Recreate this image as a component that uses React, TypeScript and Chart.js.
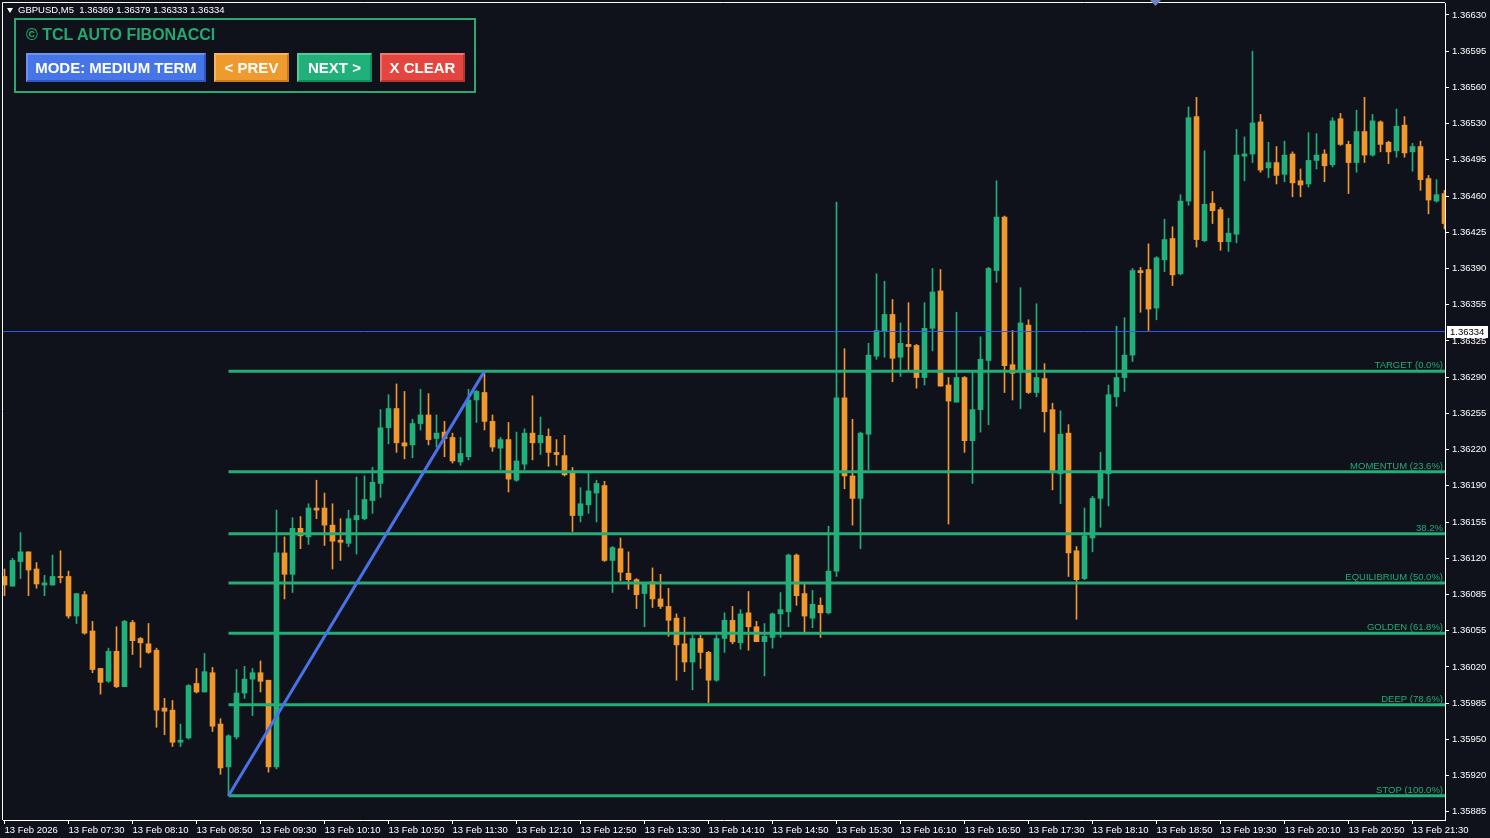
import React, { useEffect, useRef } from "react";
import { Chart, registerables } from "chart.js";

Chart.register(...registerables);

// ---------- DATA ----------
const TIME_LABELS = [
  "13 Feb 2026", "13 Feb 07:30", "13 Feb 08:10", "13 Feb 08:50", "13 Feb 09:30", "13 Feb 10:10",
  "13 Feb 10:50", "13 Feb 11:30", "13 Feb 12:10", "13 Feb 12:50", "13 Feb 13:30", "13 Feb 14:10",
  "13 Feb 14:50", "13 Feb 15:30", "13 Feb 16:10", "13 Feb 16:50", "13 Feb 17:30", "13 Feb 18:10",
  "13 Feb 18:50", "13 Feb 19:30", "13 Feb 20:10", "13 Feb 20:50", "13 Feb 21:30",
];
const BARS_PER_LABEL = 8;

const PRICE_TICKS = [
  "1.36630", "1.36595", "1.36560", "1.36530", "1.36495", "1.36460", "1.36425", "1.36390",
  "1.36355", "1.36325", "1.36290", "1.36255", "1.36220", "1.36190", "1.36155", "1.36120",
  "1.36085", "1.36055", "1.36020", "1.35985", "1.35950", "1.35920", "1.35885",
];
const PRICE_TOP = 1.3663;
const PRICE_BOTTOM = 1.35885;

const OPEN = [
  1.36105, 1.36096, 1.36119, 1.36128, 1.36112, 1.36097, 1.36097, 1.36105, 1.36105, 1.36068,
  1.36088, 1.36054, 1.36019, 1.36007, 1.36035, 1.36002, 1.36062, 1.36047, 1.36042, 1.36036,
  1.35982, 1.3598, 1.3595, 1.35954, 1.36005, 1.35997, 1.36015, 1.35967, 1.35927, 1.35955,
  1.35996, 1.36009, 1.36015, 1.36008, 1.35927, 1.36127, 1.36107, 1.3615, 1.36142, 1.36169,
  1.36169, 1.36153, 1.36139, 1.36136, 1.36158, 1.36159, 1.36176, 1.36192, 1.36244, 1.36262,
  1.3623, 1.36228, 1.36248, 1.36256, 1.36234, 1.3624, 1.36235, 1.36212, 1.36217, 1.3627,
  1.36277, 1.3625, 1.36225, 1.36233, 1.36195, 1.3621, 1.36239, 1.3623, 1.36236, 1.36221,
  1.36218, 1.36202, 1.36162, 1.36172, 1.36183, 1.3619, 1.3612, 1.36131, 1.36108, 1.36102,
  1.36089, 1.361, 1.36084, 1.36077, 1.36066, 1.36042, 1.36025, 1.36047, 1.36034, 1.36008,
  1.36047, 1.36064, 1.36043, 1.36071, 1.36058, 1.36044, 1.36048, 1.3607, 1.36072, 1.36125,
  1.36089, 1.36066, 1.36078, 1.36071, 1.3611, 1.36272, 1.36199, 1.36178, 1.36238, 1.36311,
  1.36334, 1.3635, 1.3631, 1.36322, 1.36321, 1.36291, 1.36337, 1.36372, 1.36284, 1.36268,
  1.36291, 1.36232, 1.36261, 1.36307, 1.36391, 1.36441, 1.36303, 1.36296, 1.3634, 1.36277,
  1.3629, 1.36261, 1.36201, 1.36239, 1.36129, 1.36103, 1.36141, 1.36178, 1.36201, 1.36273,
  1.36291, 1.36312, 1.36391, 1.36392, 1.36356, 1.36401, 1.36421, 1.36388, 1.36456, 1.36535,
  1.36419, 1.36454, 1.36448, 1.36418, 1.36425, 1.36498, 1.365, 1.3653, 1.36487, 1.36492,
  1.36481, 1.365, 1.36475, 1.36472, 1.36494, 1.365, 1.3649, 1.36533, 1.36509, 1.36492,
  1.36521, 1.36499, 1.3653, 1.36511, 1.36503, 1.36527, 1.36502, 1.36507, 1.36477, 1.36456,
  1.36463,
];
const HIGH = [
  1.36112, 1.36122, 1.36146, 1.36128, 1.36118, 1.36106, 1.36125, 1.36129, 1.3611, 1.36089,
  1.36091, 1.36063, 1.36019, 1.36038, 1.36058, 1.36064, 1.36064, 1.36048, 1.36061, 1.36038,
  1.35991, 1.35989, 1.35967, 1.36004, 1.36019, 1.36033, 1.3602, 1.35972, 1.35957, 1.36018,
  1.36021, 1.36019, 1.36026, 1.36008, 1.36167, 1.36142, 1.3616, 1.36161, 1.36173, 1.36195,
  1.36183, 1.36173, 1.36159, 1.36167, 1.36198, 1.36199, 1.36207, 1.36261, 1.36275, 1.36285,
  1.36278, 1.36252, 1.3628, 1.36276, 1.36256, 1.3625, 1.36239, 1.36235, 1.3628, 1.36279,
  1.36297, 1.36256, 1.36235, 1.36249, 1.3624, 1.36243, 1.36274, 1.36254, 1.36243, 1.36233,
  1.36237, 1.36207, 1.36188, 1.36202, 1.36195, 1.36194, 1.36133, 1.36141, 1.36128, 1.36103,
  1.36098, 1.36113, 1.36107, 1.36094, 1.3607, 1.36067, 1.3605, 1.3605, 1.36035, 1.3605,
  1.36071, 1.36077, 1.36074, 1.36091, 1.36063, 1.36061, 1.36071, 1.3609, 1.36126, 1.36126,
  1.36099, 1.36092, 1.36085, 1.36152, 1.36455, 1.36318, 1.36252, 1.3624, 1.36323, 1.36388,
  1.36381, 1.36364, 1.36342, 1.36361, 1.36322, 1.36361, 1.36393, 1.36392, 1.36291, 1.36352,
  1.36292, 1.36296, 1.36329, 1.36394, 1.36475, 1.36442, 1.36335, 1.36375, 1.36345, 1.3636,
  1.36304, 1.36267, 1.3626, 1.36247, 1.36133, 1.36169, 1.3618, 1.36221, 1.36284, 1.36339,
  1.36347, 1.36393, 1.36394, 1.36416, 1.36404, 1.36439, 1.36432, 1.36462, 1.36544, 1.36553,
  1.36503, 1.36465, 1.3645, 1.3644, 1.36523, 1.36516, 1.36596, 1.36537, 1.36511, 1.36507,
  1.36512, 1.36502, 1.36486, 1.3652, 1.36519, 1.36504, 1.36534, 1.36538, 1.36512, 1.36541,
  1.36553, 1.36537, 1.36531, 1.36512, 1.36542, 1.36535, 1.3651, 1.36512, 1.3648, 1.36476,
  1.36466,
];
const LOW = [
  1.36087, 1.36096, 1.36103, 1.36087, 1.36094, 1.36087, 1.36097, 1.36099, 1.36066, 1.36061,
  1.36051, 1.36015, 1.35995, 1.36006, 1.36001, 1.36002, 1.36032, 1.3602, 1.36033, 1.35964,
  1.35957, 1.35946, 1.35946, 1.35953, 1.35996, 1.35997, 1.3596, 1.3592, 1.359, 1.35953,
  1.35991, 1.35975, 1.35997, 1.35922, 1.35925, 1.36084, 1.3609, 1.36131, 1.36135, 1.36159,
  1.36134, 1.36112, 1.3612, 1.36133, 1.36126, 1.36158, 1.36164, 1.36179, 1.36229, 1.36221,
  1.36215, 1.36216, 1.36242, 1.36228, 1.36226, 1.36217, 1.36211, 1.36209, 1.36214, 1.36249,
  1.36242, 1.36222, 1.36205, 1.36184, 1.36194, 1.36205, 1.36214, 1.36219, 1.36208, 1.36209,
  1.36199, 1.36147, 1.36156, 1.36164, 1.36156, 1.36119, 1.3609, 1.36101, 1.36093, 1.36075,
  1.36058, 1.36076, 1.36075, 1.36049, 1.36008, 1.36016, 1.35999, 1.36019, 1.35987, 1.36007,
  1.36034, 1.36042, 1.36037, 1.36036, 1.36044, 1.36012, 1.36038, 1.36048, 1.36058, 1.36078,
  1.36052, 1.36057, 1.36048, 1.3607, 1.36105, 1.36187, 1.36153, 1.36131, 1.36205, 1.36308,
  1.3631, 1.36287, 1.36292, 1.36297, 1.36281, 1.36284, 1.36316, 1.36283, 1.36154, 1.36268,
  1.36221, 1.36192, 1.3624, 1.36247, 1.3638, 1.36277, 1.3627, 1.36262, 1.36276, 1.36273,
  1.3624, 1.36186, 1.36173, 1.36105, 1.36065, 1.36102, 1.36128, 1.36151, 1.36171, 1.36264,
  1.36278, 1.36306, 1.36352, 1.36335, 1.36345, 1.3639, 1.36377, 1.36387, 1.36452, 1.36413,
  1.36418, 1.36435, 1.3641, 1.36409, 1.36417, 1.36475, 1.36492, 1.36483, 1.36478, 1.36472,
  1.36474, 1.3646, 1.3646, 1.36469, 1.36486, 1.36474, 1.36488, 1.36508, 1.36463, 1.36483,
  1.36492, 1.36498, 1.36502, 1.36491, 1.36497, 1.36497, 1.36484, 1.36466, 1.36444, 1.36455,
  1.3643,
];
const CLOSE = [
  1.36097, 1.3612, 1.36128, 1.36111, 1.36098, 1.36099, 1.36105, 1.36104, 1.36068, 1.36089,
  1.36052, 1.36018, 1.36006, 1.36035, 1.36002, 1.36063, 1.36045, 1.36043, 1.36034, 1.3598,
  1.35979, 1.3595, 1.35952, 1.36003, 1.35997, 1.36016, 1.35965, 1.35926, 1.35956, 1.35996,
  1.36009, 1.36015, 1.36007, 1.35927, 1.36127, 1.36107, 1.3615, 1.36143, 1.36169, 1.36167,
  1.36153, 1.36138, 1.36137, 1.36159, 1.36162, 1.36177, 1.36193, 1.36244, 1.36262, 1.3623,
  1.36227, 1.36248, 1.36256, 1.36233, 1.36239, 1.36234, 1.36213, 1.3622, 1.3627, 1.36278,
  1.3625, 1.36226, 1.36233, 1.36196, 1.36213, 1.36239, 1.3623, 1.36237, 1.36221, 1.36219,
  1.362, 1.36162, 1.36173, 1.36185, 1.36192, 1.3612, 1.36132, 1.36109, 1.36102, 1.36088,
  1.36098, 1.36084, 1.36077, 1.36064, 1.36041, 1.36025, 1.36047, 1.36034, 1.36008, 1.36047,
  1.36064, 1.36044, 1.3607, 1.36058, 1.36044, 1.36049, 1.3607, 1.36074, 1.36125, 1.36087,
  1.36068, 1.36079, 1.36071, 1.3611, 1.36272, 1.36199, 1.36178, 1.36239, 1.36312, 1.36335,
  1.3635, 1.36309, 1.36323, 1.3632, 1.36291, 1.36337, 1.36371, 1.36283, 1.36269, 1.36291,
  1.36232, 1.36261, 1.36308, 1.36393, 1.36441, 1.36302, 1.36295, 1.36342, 1.36277, 1.36291,
  1.36259, 1.36202, 1.36238, 1.36127, 1.36102, 1.36143, 1.36178, 1.36204, 1.36275, 1.36291,
  1.36312, 1.36391, 1.36389, 1.36355, 1.36403, 1.3642, 1.36387, 1.36456, 1.36534, 1.3642,
  1.36453, 1.36447, 1.36418, 1.36426, 1.36499, 1.365, 1.36529, 1.36485, 1.36492, 1.3648,
  1.36499, 1.36473, 1.36471, 1.36494, 1.36499, 1.36489, 1.36531, 1.36509, 1.36492, 1.36521,
  1.36499, 1.36531, 1.36509, 1.36502, 1.36526, 1.36501, 1.36507, 1.36476, 1.36457, 1.36462,
  1.36435,
];

const FIB_LEVELS = [1.36297, 1.36203, 1.36145, 1.36099, 1.36052, 1.35985, 1.359];
const FIB_NAMES = [
  "TARGET (0.0%)", "MOMENTUM (23.6%)", "38.2%", "EQUILIBRIUM (50.0%)",
  "GOLDEN (61.8%)", "DEEP (78.6%)", "STOP (100.0%)",
];
const SWING_LOW_BAR = 28;
const SWING_LOW_PRICE = 1.359;
const SWING_HIGH_BAR = 60;
const SWING_HIGH_PRICE = 1.36297;
const CURRENT_PRICE = 1.36334;
const CURRENT_PRICE_LABEL = "1.36334";
const HEADER = "GBPUSD,M5  1.36369 1.36379 1.36333 1.36334";

// visible window
const X_MIN = -0.1875;
const X_MAX = 180.0625;
const Y_MIN = 1.358773;
const Y_MAX = 1.366412;

// ---------- STYLE ----------
const BG = "#0f111b";
const UP = "#22b07a";
const DOWN = "#f0982c";
const FIB = "#23ae77";
const SWING = "#4a72e6";
const CUR = "#3358f5";
const FONT = '"Liberation Sans", Arial, sans-serif';

const overlayPlugin = {
  id: "mtOverlay",
  afterDatasetsDraw(chart: any) {
    const { ctx, chartArea: a, scales } = chart;
    const y = scales.y;
    ctx.save();
    ctx.font = `9.5px ${FONT}`;
    ctx.fillStyle = FIB;
    ctx.textAlign = "right";
    ctx.textBaseline = "bottom";
    FIB_LEVELS.forEach((lv, k) => {
      ctx.fillText(FIB_NAMES[k], a.right - 2, y.getPixelForValue(lv) - 1);
    });
    ctx.restore();
  },
  afterDraw(chart: any) {
    const { ctx, chartArea: a, scales } = chart;
    const y = scales.y;
    ctx.save();
    // frame (top & left)
    ctx.strokeStyle = "#ffffff";
    ctx.lineWidth = 1;
    ctx.beginPath();
    ctx.moveTo(a.left - 0.5, a.bottom);
    ctx.lineTo(a.left - 0.5, a.top - 0.5);
    ctx.lineTo(a.right, a.top - 0.5);
    ctx.stroke();
    // current price tag
    const py = Math.round(y.getPixelForValue(CURRENT_PRICE));
    ctx.fillStyle = "#ffffff";
    ctx.fillRect(a.right + 2, py - 6, 41, 12);
    ctx.fillStyle = "#000000";
    ctx.font = `9.5px ${FONT}`;
    ctx.textAlign = "left";
    ctx.textBaseline = "middle";
    ctx.fillText(CURRENT_PRICE_LABEL, a.right + 5, py + 0.5);
    // small marker at top
    ctx.fillStyle = "#6f82c0";
    ctx.beginPath();
    ctx.moveTo(1150, 0);
    ctx.lineTo(1161, 0);
    ctx.lineTo(1155.5, 6);
    ctx.closePath();
    ctx.fill();
    ctx.restore();
  },
};

export default function App() {
  const ref = useRef<HTMLCanvasElement | null>(null);

  useEffect(() => {
    document.body.style.margin = "0";
    document.body.style.background = BG;
    const canvas = ref.current;
    if (!canvas) return;

    const colors = OPEN.map((o, i) => (CLOSE[i] >= o ? UP : DOWN));
    const wicks = OPEN.map((_, i) => ({ x: i, y: [LOW[i], HIGH[i]] }));
    const bodies = OPEN.map((o, i) => ({
      x: i,
      y: [Math.min(o, CLOSE[i]), Math.max(o, CLOSE[i])],
    }));

    const fibSets = FIB_LEVELS.map((lv) => ({
      type: "line",
      data: [
        { x: SWING_LOW_BAR, y: lv },
        { x: X_MAX, y: lv },
      ],
      borderColor: FIB,
      borderWidth: 3,
      pointRadius: 0,
      order: 5,
    }));

    const chart = new Chart(canvas, {
      type: "bar",
      data: {
        datasets: [
          {
            type: "bar",
            data: wicks,
            backgroundColor: colors,
            borderWidth: 0,
            barThickness: 1,
            grouped: false,
            order: 11,
          },
          {
            type: "bar",
            data: bodies,
            backgroundColor: colors,
            borderWidth: 0,
            barThickness: 5,
            minBarLength: 1,
            grouped: false,
            order: 10,
          },
          {
            type: "line",
            data: [
              { x: X_MIN, y: CURRENT_PRICE },
              { x: X_MAX, y: CURRENT_PRICE },
            ],
            borderColor: CUR,
            borderWidth: 1,
            pointRadius: 0,
            order: 7,
          },
          ...fibSets,
          {
            type: "line",
            data: [
              { x: SWING_LOW_BAR, y: SWING_LOW_PRICE },
              { x: SWING_HIGH_BAR, y: SWING_HIGH_PRICE },
            ],
            borderColor: SWING,
            borderWidth: 3,
            pointRadius: 0,
            order: 1,
          },
        ] as any,
      },
      options: {
        animation: false,
        responsive: false,
        events: [],
        layout: { padding: { left: 3, top: 3, right: 0, bottom: 0 } },
        plugins: { legend: { display: false }, tooltip: { enabled: false } },
        scales: {
          x: {
            type: "linear",
            min: X_MIN,
            max: X_MAX,
            offset: false,
            afterBuildTicks: (s: any) => {
              s.ticks = TIME_LABELS.map((_, k) => ({ value: k * BARS_PER_LABEL }));
            },
            afterFit: (s: any) => {
              s.height = 18;
              s.paddingLeft = 0;
              s.paddingRight = 0;
            },
            ticks: {
              callback: (_v: any, idx: number) => TIME_LABELS[idx],
              autoSkip: false,
              maxRotation: 0,
              minRotation: 0,
              align: "start",
              color: "#ffffff",
              font: { family: FONT, size: 9.5 },
              padding: 1,
            },
            grid: {
              display: true,
              drawOnChartArea: false,
              drawTicks: true,
              tickLength: 4,
              color: "#ffffff",
              offset: false,
            },
            border: { display: true, color: "#ffffff", width: 1 },
          },
          y: {
            type: "linear",
            position: "right",
            min: Y_MIN,
            max: Y_MAX,
            afterBuildTicks: (s: any) => {
              const n = PRICE_TICKS.length - 1;
              s.ticks = PRICE_TICKS.map((_, k) => ({
                value: PRICE_TOP - (k * (PRICE_TOP - PRICE_BOTTOM)) / n,
              }));
            },
            afterFit: (s: any) => {
              s.width = 45;
              s.paddingTop = 0;
              s.paddingBottom = 0;
            },
            ticks: {
              callback: (_v: any, idx: number) => PRICE_TICKS[idx],
              autoSkip: false,
              color: "#ffffff",
              font: { family: FONT, size: 9.5 },
              padding: 3,
            },
            grid: {
              display: true,
              drawOnChartArea: false,
              drawTicks: true,
              tickLength: 4,
              color: "#ffffff",
            },
            border: { display: true, color: "#ffffff", width: 1 },
          },
        },
      } as any,
      plugins: [overlayPlugin],
    });

    return () => chart.destroy();
  }, []);

  const btn = (bg: string, light: string, dark: string, left: number, width: number) => ({
    position: "absolute" as const,
    left,
    top: 33,
    width,
    height: 29,
    boxSizing: "border-box" as const,
    background: bg,
    borderTop: `2px solid ${light}`,
    borderLeft: `2px solid ${light}`,
    borderBottom: `2px solid ${dark}`,
    borderRight: `2px solid ${dark}`,
    color: "#ffffff",
    fontFamily: FONT,
    fontWeight: "bold" as const,
    fontSize: 15,
    display: "flex",
    alignItems: "center",
    justifyContent: "center",
    whiteSpace: "nowrap" as const,
  });

  return (
    <div style={{ position: "relative", width: 1490, height: 838, background: BG, overflow: "hidden" }}>
      <canvas ref={ref} width={1490} height={838} style={{ position: "absolute", left: 0, top: 0, display: "block" }} />
      <div
        style={{
          position: "absolute",
          left: 7,
          top: 8,
          width: 0,
          height: 0,
          borderLeft: "3px solid transparent",
          borderRight: "3px solid transparent",
          borderTop: "5px solid #ffffff",
        }}
      />
      <div
        style={{
          position: "absolute",
          left: 18,
          top: 4,
          fontFamily: FONT,
          fontSize: 9.5,
          lineHeight: "11px",
          color: "#ffffff",
          whiteSpace: "pre",
        }}
      >
        {HEADER}
      </div>
      <div
        style={{
          position: "absolute",
          left: 14,
          top: 18,
          width: 462,
          height: 75,
          boxSizing: "border-box",
          border: "2px solid #2aa872",
          background: BG,
        }}
      >
        <div
          style={{
            position: "absolute",
            left: 10,
            top: 7,
            fontFamily: FONT,
            fontWeight: "bold",
            fontSize: 16,
            lineHeight: "16px",
            color: "#22a870",
            whiteSpace: "nowrap",
          }}
        >
          © TCL AUTO FIBONACCI
        </div>
        <div style={btn("#4575e6", "#6c93f0", "#2f58c0", 10, 180)}>MODE: MEDIUM TERM</div>
        <div style={btn("#ee9a2e", "#f6b660", "#c77a1a", 198, 75)}>&lt; PREV</div>
        <div style={btn("#22b07a", "#4fcc97", "#178a5e", 281, 75)}>NEXT &gt;</div>
        <div style={btn("#e5453f", "#f07672", "#b83230", 364, 85)}>X CLEAR</div>
      </div>
    </div>
  );
}
